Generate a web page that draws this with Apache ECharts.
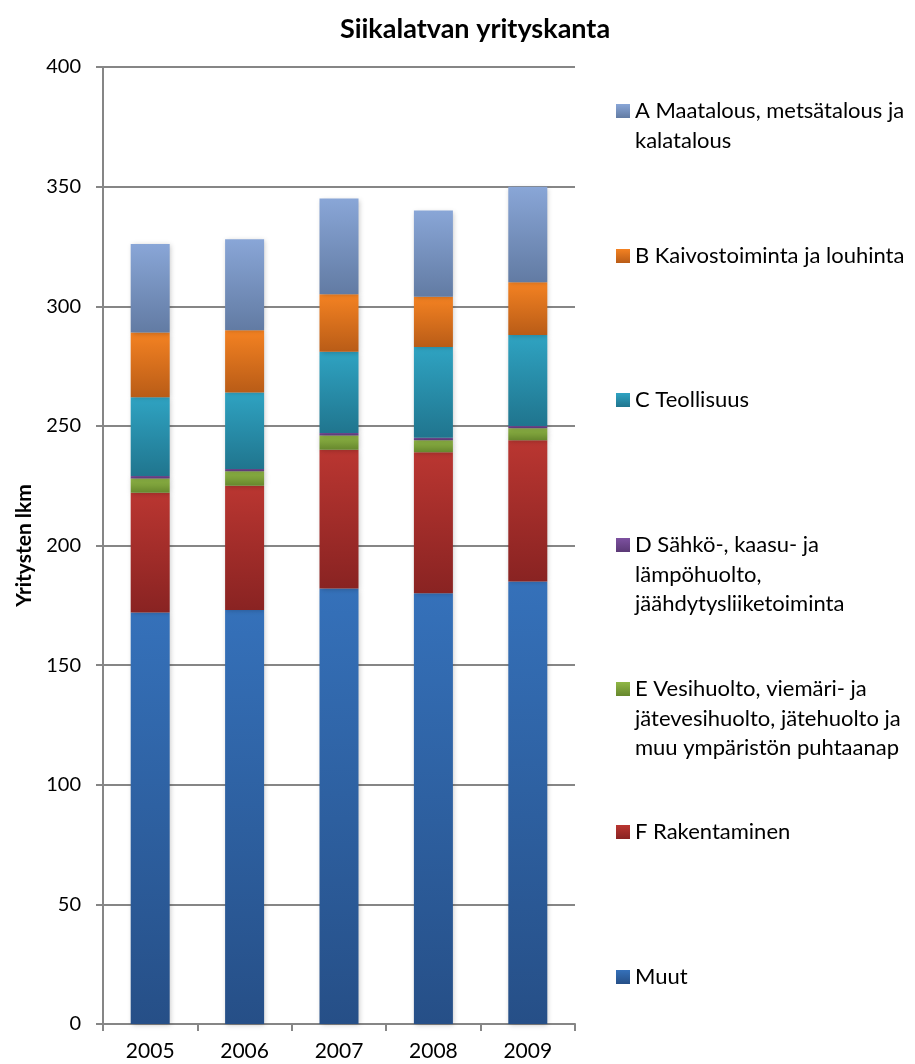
<!DOCTYPE html>
<html>
<head>
<meta charset="utf-8">
<script src="https://cdn.jsdelivr.net/npm/echarts@6/dist/echarts.min.js"></script>
<style>
html,body{margin:0;padding:0;background:#fff;}
#chart{width:915px;height:1064px;}
</style>
</head>
<body>
<div id="chart"></div>
<script>
const years = ['2005', '2006', '2007', '2008', '2009'];
const muut = [172, 173, 182, 180, 185];
const fRak = [50, 52, 58, 59, 59];
const eVesi = [6, 6, 6, 5, 5];
const dSahko = [1, 1, 1, 1, 1];
const cTeol = [33, 32, 34, 38, 38];
const bKaivos = [27, 26, 24, 21, 22];
const aMaa = [37, 38, 40, 36, 40];
const yTicks = [0, 50, 100, 150, 200, 250, 300, 350, 400];

const seriesDefs = [
  { name: 'Muut', data: muut, c1: '#3571BA', c2: '#264F87', lines: ['Muut'], cy: 977 },
  { name: 'F Rakentaminen', data: fRak, c1: '#BA3631', c2: '#892322', lines: ['F Rakentaminen'], cy: 832 },
  { name: 'E Vesihuolto, viemäri- ja jätevesihuolto, jätehuolto ja muu ympäristön puhtaanap', data: eVesi, c1: '#90B746', c2: '#66872D', lines: ['E Vesihuolto, viemäri- ja', 'jätevesihuolto, jätehuolto ja', 'muu ympäristön puhtaanap'], cy: 689 },
  { name: 'D Sähkö-, kaasu- ja lämpöhuolto, jäähdytysliiketoiminta', data: dSahko, c1: '#7D51A0', c2: '#5B3976', lines: ['D Sähkö-, kaasu- ja', 'lämpöhuolto,', 'jäähdytysliiketoiminta'], cy: 545 },
  { name: 'C Teollisuus', data: cTeol, c1: '#2FA3C2', c2: '#20758E', lines: ['C Teollisuus'], cy: 400 },
  { name: 'B Kaivostoiminta ja louhinta', data: bKaivos, c1: '#F48222', c2: '#B95C17', lines: ['B Kaivostoiminta ja louhinta'], cy: 256 },
  { name: 'A Maatalous, metsätalous ja kalatalous', data: aMaa, c1: '#89A6D7', c2: '#627BA3', lines: ['A Maatalous, metsätalous ja', 'kalatalous'], cy: 111 }
];

const FONT = 'Lato';
const LH = 29.5;

const legends = seriesDefs.map(s => {
  const n = s.lines.length;
  const H = (2 * n - 1) * LH;
  const text = new Array(n - 1).fill(' ').concat(s.lines).join('\n');
  return {
    orient: 'vertical',
    left: 616,
    top: s.cy - H / 2,
    padding: 0,
    itemGap: 0,
    itemWidth: 14,
    itemHeight: 14,
    icon: 'rect',
    data: [s.name],
    formatter: () => text,
    textStyle: {
      fontFamily: FONT,
      fontSize: 22,
      color: '#000',
      lineHeight: LH
    }
  };
});

const series = seriesDefs.map(s => ({
  name: s.name,
  type: 'bar',
  stack: 'total',
  barWidth: 39,
  data: s.data,
  itemStyle: {
    color: new echarts.graphic.LinearGradient(0, 0, 0, 1, [
      { offset: 0, color: s.c1 },
      { offset: 1, color: s.c2 }
    ]),
    shadowBlur: 5,
    shadowColor: 'rgba(0,0,0,0.22)',
    shadowOffsetX: 1,
    shadowOffsetY: 1
  },
  emphasis: { disabled: true }
}));

const chart = echarts.init(document.getElementById('chart'));
chart.setOption({
  animation: false,
  backgroundColor: '#fff',
  title: {
    text: 'Siikalatvan yrityskanta',
    left: 470,
    top: 11,
    textAlign: 'center',
    textStyle: { fontFamily: FONT, fontWeight: 'bold', fontSize: 27, color: '#000' }
  },
  legend: legends,
  grid: { left: 103, right: 340, top: 67, bottom: 40, containLabel: false },
  xAxis: {
    type: 'category',
    data: years,
    axisLine: { lineStyle: { color: '#868686', width: 2 } },
    axisTick: { show: true, length: 7, lineStyle: { color: '#868686', width: 2 } },
    axisLabel: { fontFamily: FONT, fontSize: 21, color: '#000', margin: 17 }
  },
  yAxis: {
    type: 'value',
    min: yTicks[0],
    max: yTicks[yTicks.length - 1],
    interval: 50,
    name: 'Yritysten lkm',
    nameLocation: 'middle',
    nameGap: 68,
    nameRotate: 90,
    nameTextStyle: { fontFamily: FONT, fontWeight: 'bold', fontSize: 21, color: '#000' },
    axisLine: { show: true, lineStyle: { color: '#868686', width: 2 } },
    axisTick: { show: true, length: 7, lineStyle: { color: '#868686', width: 2 } },
    axisLabel: { fontFamily: FONT, fontSize: 20, color: '#000', margin: 22 },
    splitLine: { lineStyle: { color: '#868686', width: 2 } }
  },
  series: series
});
</script>
</body>
</html>
